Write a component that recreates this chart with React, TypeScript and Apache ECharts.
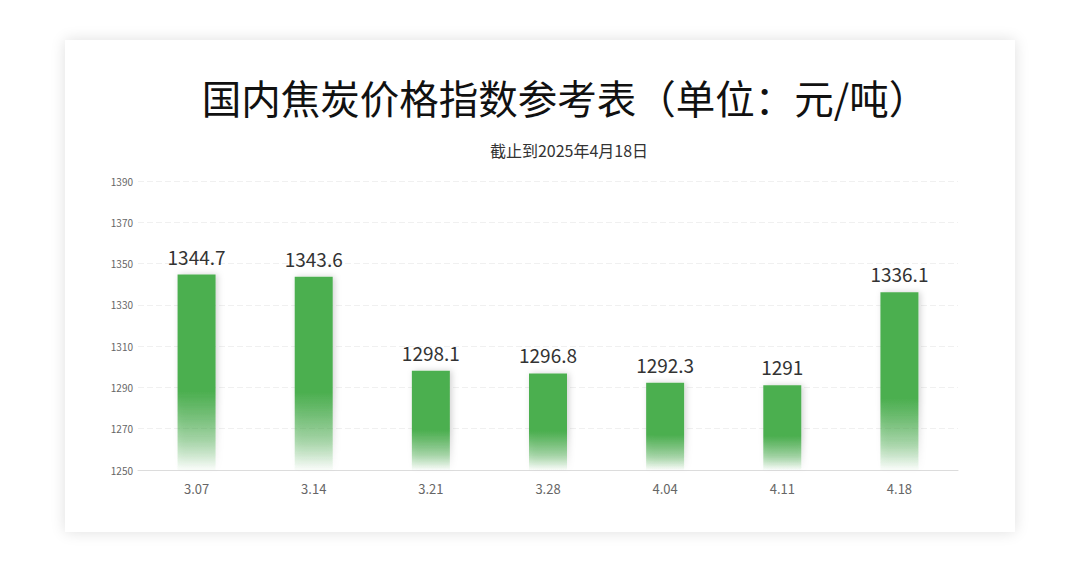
import React, { useEffect, useRef } from 'react'
import * as echarts from 'echarts'

const dates = ['3.07', '3.14', '3.21', '3.28', '4.04', '4.11', '4.18']
const prices = [1344.7, 1343.6, 1298.1, 1296.8, 1292.3, 1291, 1336.1]
const yMin = 1250
const yMax = 1390
const yStep = 20

const FONT = '"Noto Sans CJK SC", "Noto Sans", sans-serif'

export default function App() {
  const chartRef: any = useRef()

  useEffect(() => {
    const myChart = echarts.init(chartRef.current, null, { renderer: 'svg' })
    const option = {
      animation: false,
      backgroundColor: '#ffffff',
      title: [
        {
          text: '国内焦炭价格指数参考表（单位：元/吨）',
          left: 495,
          top: 32,
          textAlign: 'center',
          textStyle: { fontFamily: FONT, fontSize: 39.5, fontWeight: 'normal', color: '#111111' }
        },
        {
          text: '截止到2025年4月18日',
          left: 499,
          top: 97,
          textAlign: 'center',
          textStyle: { fontFamily: FONT, fontSize: 16, fontWeight: 'normal', color: '#333333' }
        }
      ],
      grid: { left: 73, right: 57, top: 141, bottom: 62 },
      xAxis: {
        type: 'category',
        data: dates,
        axisTick: { show: false },
        axisLine: { lineStyle: { color: '#dcdcdc' } },
        axisLabel: { color: '#666666', fontFamily: FONT, fontSize: 13, margin: 12 }
      },
      yAxis: {
        type: 'value',
        min: yMin,
        max: yMax,
        interval: yStep,
        axisLine: { show: false },
        axisTick: { show: false },
        axisLabel: {
          color: '#666666',
          fontFamily: FONT,
          fontSize: 10,
          margin: 5,
          formatter: (v: number) => String(v)
        },
        splitLine: { lineStyle: { color: '#f0f0f0', width: 1, type: [6, 3] } }
      },
      series: [
        {
          type: 'bar',
          data: prices,
          barWidth: 38,
          label: {
            show: true,
            position: 'top',
            distance: 9,
            color: '#333333',
            fontFamily: FONT,
            fontSize: 19
          },
          itemStyle: {
            color: new echarts.graphic.LinearGradient(0, 0, 0, 1, [
              { offset: 0, color: '#4caf50' },
              { offset: 0.6, color: '#4caf50' },
              { offset: 0.85, color: 'rgba(76,175,80,0.45)' },
              { offset: 1, color: 'rgba(76,175,80,0.02)' }
            ]),
            shadowColor: 'rgba(0,0,0,0.18)',
            shadowBlur: 6,
            shadowOffsetX: 2
          }
        }
      ]
    }
    myChart.setOption(option)
    return () => {
      myChart.dispose()
    }
  }, [])

  return (
    <div style={{ position: 'fixed', left: 0, top: 0, width: 1080, height: 579, background: '#ffffff' }}>
      <div
        style={{
          position: 'absolute',
          left: 65,
          top: 40,
          width: 950,
          height: 492,
          background: '#ffffff',
          boxShadow: '0 0 14px rgba(0,0,0,0.13)'
        }}
      >
        <div ref={chartRef} style={{ width: 950, height: 492 }} />
      </div>
    </div>
  )
}
